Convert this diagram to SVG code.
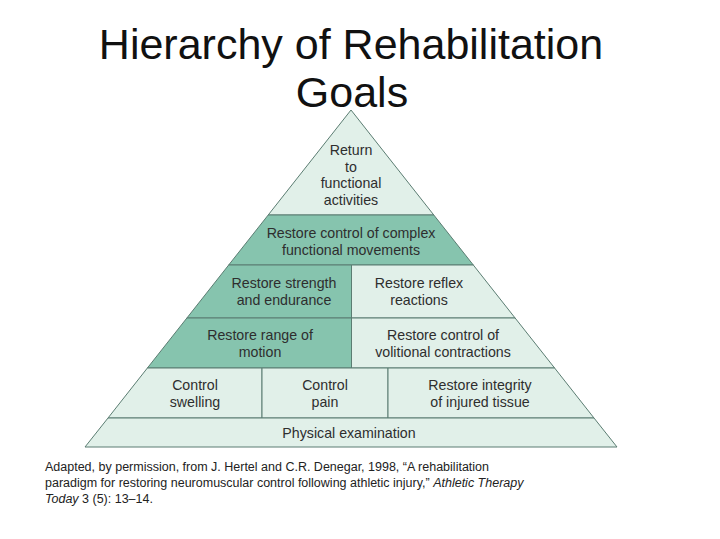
<svg xmlns="http://www.w3.org/2000/svg" width="720" height="539" viewBox="0 0 720 539">
<style>
.title{font-family:"Liberation Sans",Arial,sans-serif;font-size:43px;fill:#111;text-anchor:middle}
.lbl{font-family:"Liberation Sans",Arial,sans-serif;font-size:14.2px;fill:#2e2e2e;text-anchor:middle}
.cap{font-family:"Liberation Sans",Arial,sans-serif;font-size:12.5px;fill:#222}
.dk{fill:#86c4ae;stroke:#5b7d72;stroke-width:1}
.lt{fill:#e1f0e9;stroke:#5b7d72;stroke-width:1}
</style>
<rect width="720" height="539" fill="#fff"/>
<text class="title" x="351" y="59">Hierarchy of Rehabilitation</text>
<text class="title" x="352" y="107">Goals</text>
<g id="pyramid">
<g id="n-return">
<polygon class="lt" points="351,110 433.8,215 268.2,215"/>
<text class="lbl" x="351" y="155">Return</text>
<text class="lbl" x="351" y="171.5">to</text>
<text class="lbl" x="351" y="188">functional</text>
<text class="lbl" x="351" y="204.5">activities</text>
</g>
<g id="n-complex">
<polygon class="dk" points="268.2,215 433.8,215 473.3,265 228.7,265"/>
<text class="lbl" x="351" y="238">Restore control of complex</text>
<text class="lbl" x="351" y="255">functional movements</text>
</g>
<g id="n-strength">
<polygon class="dk" points="228.7,265 351.5,265 351.5,318 186.9,318"/>
<text class="lbl" x="284" y="288">Restore strength</text>
<text class="lbl" x="284" y="305">and endurance</text>
</g>
<g id="n-reflex">
<polygon class="lt" points="351.5,265 473.3,265 515.1,318 351.5,318"/>
<text class="lbl" x="419" y="288">Restore reflex</text>
<text class="lbl" x="419" y="305">reactions</text>
</g>
<g id="n-range">
<polygon class="dk" points="186.9,318 351.5,318 351.5,368 147.4,368"/>
<text class="lbl" x="260" y="340">Restore range of</text>
<text class="lbl" x="260" y="357">motion</text>
</g>
<g id="n-volitional">
<polygon class="lt" points="351.5,318 515.1,318 554.6,368 351.5,368"/>
<text class="lbl" x="443" y="340">Restore control of</text>
<text class="lbl" x="443" y="357">volitional contractions</text>
</g>
<g id="n-swelling">
<polygon class="lt" points="147.4,368 262,368 262,418 108,418"/>
<text class="lbl" x="195" y="390">Control</text>
<text class="lbl" x="195" y="407">swelling</text>
</g>
<g id="n-pain">
<polygon class="lt" points="262,368 388,368 388,418 262,418"/>
<text class="lbl" x="325" y="390">Control</text>
<text class="lbl" x="325" y="407">pain</text>
</g>
<g id="n-integrity">
<polygon class="lt" points="388,368 554.6,368 594,418 388,418"/>
<text class="lbl" x="480" y="390">Restore integrity</text>
<text class="lbl" x="480" y="407">of injured tissue</text>
</g>
<g id="n-physical">
<polygon class="lt" points="108,418 594,418 617,447 85,447"/>
<text class="lbl" x="349" y="438">Physical examination</text>
</g>
</g>
<g id="connectors"></g>
<g id="caption">
<text class="cap" x="45" y="471">Adapted, by permission, from J. Hertel and C.R. Denegar, 1998, “A rehabilitation</text>
<text class="cap" x="45" y="487">paradigm for restoring neuromuscular control following athletic injury,” <tspan font-style="italic">Athletic Therapy</tspan></text>
<text class="cap" x="45" y="503"><tspan font-style="italic">Today</tspan> 3 (5): 13–14.</text>
</g>
</svg>
